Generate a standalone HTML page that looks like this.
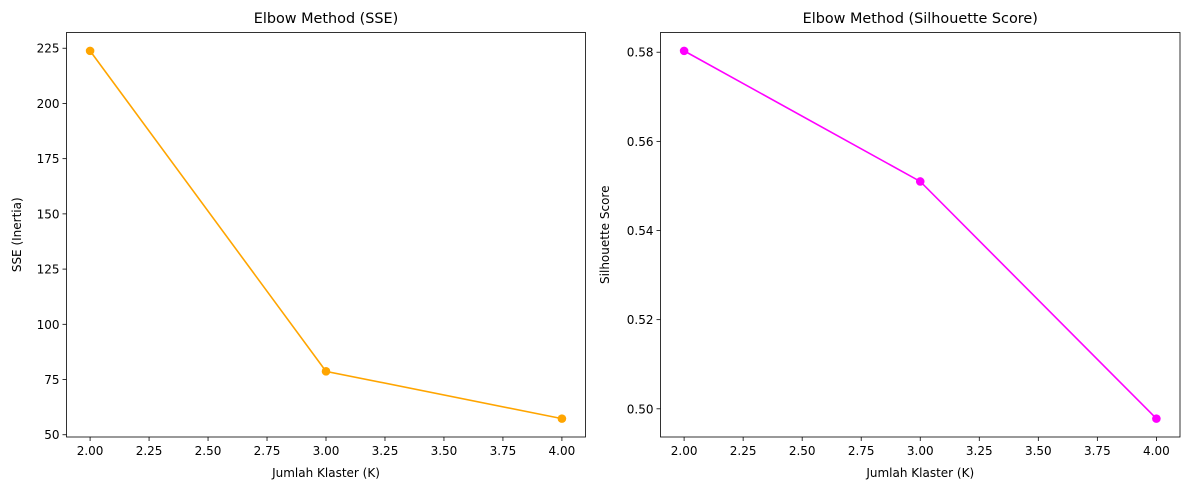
<!DOCTYPE html>
<html><head><meta charset="utf-8"><style>
html,body{margin:0;padding:0;background:#fff;}
svg{display:block;font-family:"DejaVu Sans","Liberation Sans",sans-serif;}
</style></head><body>
<svg id="c" width="1189" height="490" xmlns="http://www.w3.org/2000/svg"></svg>
<script>
const kValues = [2, 3, 4];
const sseValues = [223.8, 78.7, 57.3];
const silValues = [0.5803, 0.5510, 0.4978];
const xTicks = [2.00, 2.25, 2.50, 2.75, 3.00, 3.25, 3.50, 3.75, 4.00];
const sseTicks = [50, 75, 100, 125, 150, 175, 200, 225];
const silTicks = [0.50, 0.52, 0.54, 0.56, 0.58];

const NS = "http://www.w3.org/2000/svg";
const svg = document.getElementById('c');
function mk(tag, attrs, parent, text){
  const e = document.createElementNS(NS, tag);
  for (const k in attrs) e.setAttribute(k, attrs[k]);
  if (text !== undefined) e.textContent = text;
  (parent || svg).appendChild(e);
  return e;
}
function panel(opts){
  const g = mk('g', {});
  
  
  const L = opts.left, R = opts.right, T = 32.5, B = 437;
  const xmin = 1.9, xmax = 4.1;
  const vals = opts.values;
  const lo = Math.min(...vals), hi = Math.max(...vals), m = (hi - lo) * 0.05;
  const ymin = lo - m, ymax = hi + m;
  const X = v => L + (v - xmin) / (xmax - xmin) * (R - L);
  const Y = v => B - (v - ymin) / (ymax - ymin) * (B - T);
  // x ticks
  xTicks.forEach(t => {
    const x = X(t);
    const tk = mk('line', {x1:x, x2:x, y1:B, y2:B+4, stroke:'#000', 'stroke-width':0.8}, g);
    
    
    const lb = mk('text', {x:x, y:B+18, 'text-anchor':'middle', 'font-size':12}, g, t.toFixed(2));
    
    
  });
  opts.ticks.forEach(t => {
    const y = Y(t);
    const tk = mk('line', {x1:L-4, x2:L, y1:y, y2:y, stroke:'#000', 'stroke-width':0.8}, g);
    
    
    const lb = mk('text', {x:L-7, y:y+4.5, 'text-anchor':'end', 'font-size':12}, g, opts.fmt(t));
    
    
  });
  const pts = kValues.map((k, i) => X(k) + ',' + Y(vals[i])).join(' ');
  const line = mk('polyline', {points:pts, fill:'none', stroke:opts.color, 'stroke-width':1.6}, g);
  
  
  kValues.forEach((k, i) => {
    const p = mk('circle', {cx:X(k), cy:Y(vals[i]), r:4.3, fill:opts.color}, g);
    
    
  });
  const fr = mk('rect', {x:L, y:T, width:R-L, height:B-T, fill:'none', stroke:'#000', 'stroke-width':0.8}, g);
  
  
  const ti = mk('text', {x:(L+R)/2, y:23, 'text-anchor':'middle', 'font-size':14.4}, g, opts.title);
  
  
  const xl = mk('text', {x:(L+R)/2, y:477, 'text-anchor':'middle', 'font-size':12}, g, 'Jumlah Klaster (K)');
  
  
  const yx = opts.ylabX, yy = (T+B)/2;
  const yl = mk('text', {x:yx, y:yy, 'text-anchor':'middle', 'font-size':12, transform:'rotate(-90 '+yx+' '+yy+')'}, g, opts.ylabel);
  
  
}
panel({name:'sse-chart', left:66.5, right:585.5, values:sseValues, ticks:sseTicks, fmt:t=>String(t), color:'#ffa500', title:'Elbow Method (SSE)', ylabel:'SSE (Inertia)', ylabX:21});
panel({name:'silhouette-chart', left:660.5, right:1180, values:silValues, ticks:silTicks, fmt:t=>t.toFixed(2), color:'#ff00ff', title:'Elbow Method (Silhouette Score)', ylabel:'Silhouette Score', ylabX:609});
</script>
</body></html>
